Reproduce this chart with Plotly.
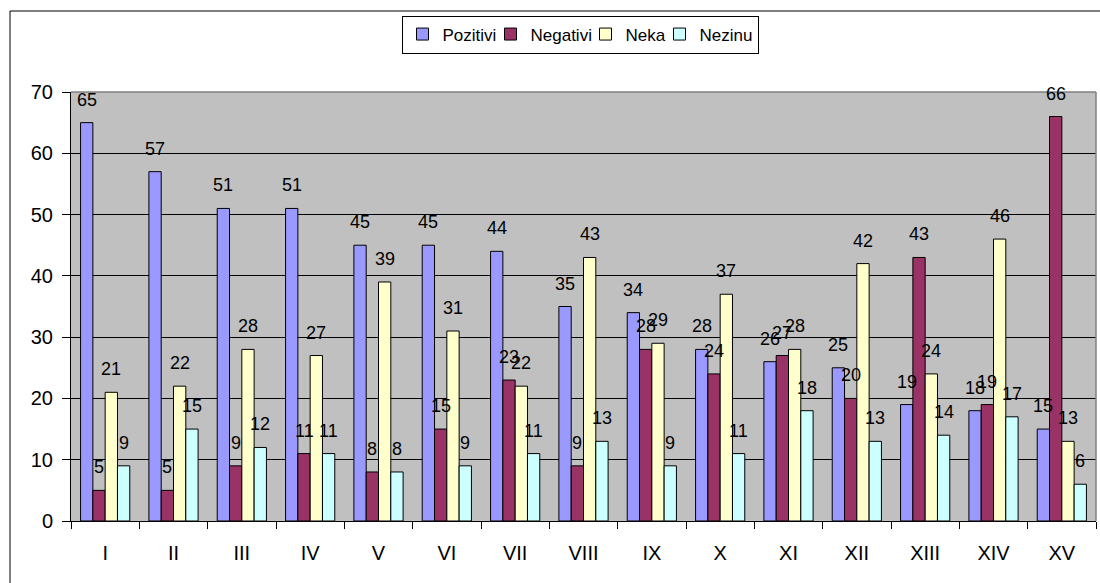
import plotly.graph_objects as go

categories = ["I", "II", "III", "IV", "V", "VI", "VII", "VIII", "IX", "X", "XI", "XII", "XIII", "XIV", "XV"]
pozitivi = [65, 57, 51, 51, 45, 45, 44, 35, 34, 28, 26, 25, 19, 18, 15]
negativi = [5, 5, 9, 11, 8, 15, 23, 9, 28, 24, 27, 20, 43, 19, 66]
neka = [21, 22, 28, 27, 39, 31, 22, 43, 29, 37, 28, 42, 24, 46, 13]
nezinu = [9, 15, 12, 11, 8, 9, 11, 13, 9, 11, 18, 13, 14, 17, 6]

series_names = ["Pozitivi", "Negativi", "Neka", "Nezinu"]
series_values = [pozitivi, negativi, neka, nezinu]
series_colors = ["#9999FF", "#993366", "#FFFFCC", "#CCFFFF"]
# legend entry widths (px) slightly tighter than the text, to mimic the compact legend
legend_widths = [43, 50, 29, None]

FONT = "Liberation Sans, Arial, sans-serif"
BARGAP = 0.28
n_series = len(series_names)
bar_w = (1 - BARGAP) / n_series

fig = go.Figure()
annotations = []
for k, (name, vals, col, lw) in enumerate(zip(series_names, series_values, series_colors, legend_widths)):
    tr = dict(
        x=categories, y=vals, name=name,
        marker=dict(color=col, line=dict(color="black", width=1)),
    )
    if lw:
        tr["legendwidth"] = lw
    fig.add_trace(go.Bar(**tr))
    off = -(1 - BARGAP) / 2 + bar_w * (k + 0.5)
    for i, v in enumerate(vals):
        annotations.append(dict(
            x=i + off, y=v, xref="x", yref="y", text=str(v),
            showarrow=False, yanchor="bottom", xanchor="center", yshift=11,
            font=dict(family=FONT, size=18, color="black"),
        ))

L, R, T, B = 71, 4, 92, 62
W, H = 1100, 583
pw, ph = W - L - R, H - T - B

def px_to_paper_x(px):
    return (px - L) / pw

def px_to_paper_y(py):
    return (H - B - py) / ph

fig.update_layout(
    width=W, height=H,
    margin=dict(l=L, r=R, t=T, b=B, pad=0, autoexpand=False),
    paper_bgcolor="white",
    plot_bgcolor="#C0C0C0",
    barmode="group",
    bargap=BARGAP,
    bargroupgap=0,
    font=dict(family=FONT, size=20, color="black"),
    annotations=annotations,
    showlegend=True,
    legend=dict(
        orientation="h",
        x=px_to_paper_x(580), xanchor="center",
        y=px_to_paper_y(34.5), yanchor="middle",
        bgcolor="white", bordercolor="black", borderwidth=1,
        font=dict(family=FONT, size=17, color="black"),
        itemwidth=30,
    ),
    xaxis=dict(
        type="category", automargin=False,
        showline=True, linecolor="black", linewidth=1,
        ticks="outside", tickson="boundaries", ticklen=7, tickcolor="black",
        tickfont=dict(family=FONT, size=20, color="black"),
        ticklabelstandoff=14,
        showgrid=False,
        range=[-0.5, len(categories) - 0.5],
    ),
    yaxis=dict(
        range=[0, 70], dtick=10, automargin=False,
        showline=True, linecolor="black", linewidth=1,
        ticks="outside", ticklen=8, tickcolor="black",
        tickfont=dict(family=FONT, size=20, color="black"),
        ticklabelstandoff=5,
        showgrid=True, gridcolor="black", gridwidth=1,
        zeroline=False,
    ),
    shapes=[
        # outer chart frame
        dict(type="rect", xref="paper", yref="paper",
             x0=px_to_paper_x(10), y0=px_to_paper_y(600),
             x1=px_to_paper_x(1120), y1=px_to_paper_y(11),
             line=dict(color="black", width=1), fillcolor="rgba(0,0,0,0)", layer="below"),
        # plot area border (gray)
        dict(type="line", xref="paper", yref="paper", x0=0, x1=1, y0=1, y1=1,
             line=dict(color="#808080", width=1.5), layer="above"),
        dict(type="line", xref="paper", yref="paper", x0=1, x1=1, y0=0, y1=1,
             line=dict(color="#808080", width=1.5), layer="above"),
    ],
)

fig.write_html("out.html", config={"displayModeBar": False},
               post_script="document.body.style.margin='0';")
